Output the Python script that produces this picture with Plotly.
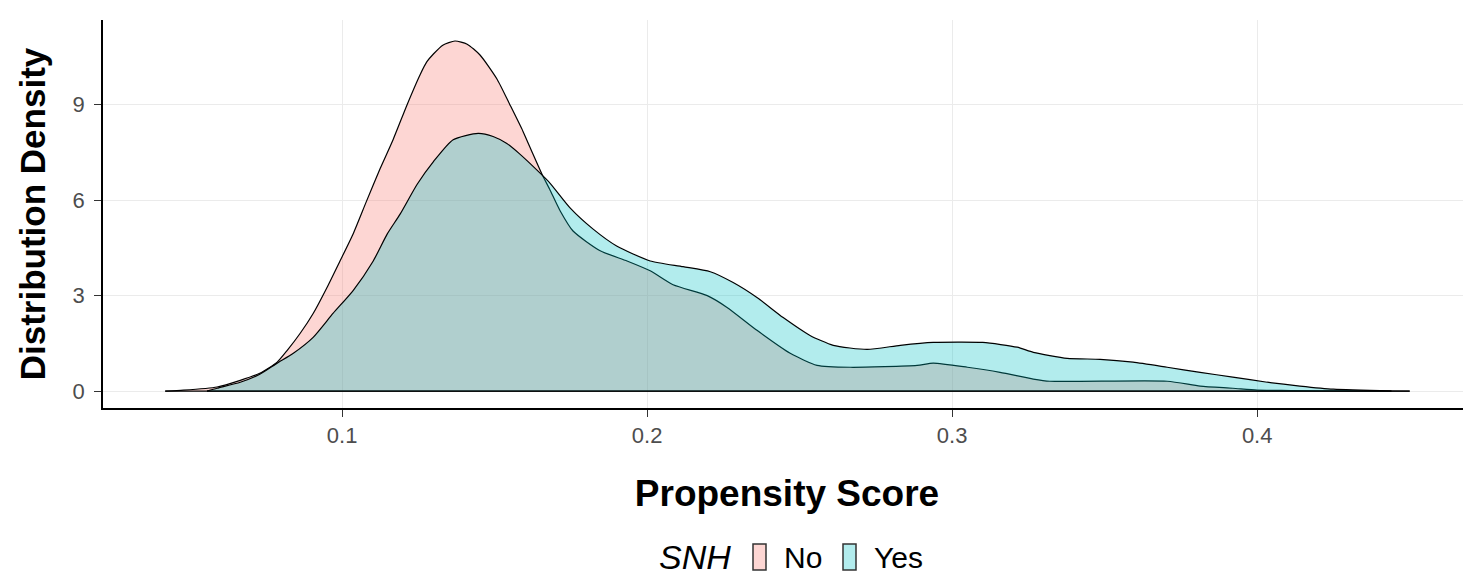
import plotly.graph_objects as go

# ---- data ----
no_x = [0.042, 0.048, 0.059, 0.0666, 0.073, 0.0787, 0.082, 0.0862, 0.0905, 0.095,
        0.0993, 0.1036, 0.108, 0.1125, 0.1167, 0.1213, 0.1256, 0.1278, 0.130, 0.133,
        0.137, 0.141, 0.1452, 0.1508, 0.155, 0.1593, 0.1626, 0.1656, 0.168, 0.1715,
        0.1757, 0.1846, 0.1934, 0.201, 0.2085, 0.2197, 0.2262, 0.236, 0.2469, 0.2557,
        0.2666, 0.2885, 0.2938, 0.305, 0.3157, 0.3266, 0.332, 0.3705, 0.3813, 0.392,
        0.400, 0.411, 0.430, 0.450]
no_y = [0.0, 0.03, 0.13, 0.34, 0.56, 0.91, 1.28, 1.81, 2.44, 3.25,
        4.09, 4.94, 5.97, 7.0, 7.9, 9.0, 9.95, 10.35, 10.6, 10.87,
        11.0, 10.9, 10.56, 9.8, 9.0, 8.16, 7.44, 6.8, 6.35, 5.66,
        5.03, 4.41, 4.09, 3.78, 3.34, 3.0, 2.63, 1.91, 1.19, 0.81,
        0.75, 0.81, 0.88, 0.75, 0.59, 0.38, 0.31, 0.31, 0.16, 0.09,
        0.03, 0.02, 0.005, 0.0]

yes_x = [0.0557, 0.059, 0.0666, 0.073, 0.0787, 0.084, 0.0905, 0.097, 0.1036, 0.1102,
         0.1148, 0.119, 0.1246, 0.130, 0.1364, 0.1446, 0.1495, 0.154, 0.158, 0.165,
         0.1682, 0.1748, 0.1823, 0.190, 0.201, 0.2118, 0.2207, 0.2282, 0.236, 0.2446,
         0.2534, 0.261, 0.2721, 0.283, 0.2938, 0.310, 0.3213, 0.3266, 0.3377, 0.3485,
         0.3593, 0.3705, 0.3813, 0.392, 0.4033, 0.414, 0.425, 0.444]
yes_y = [0.0, 0.09, 0.28, 0.53, 0.88, 1.19, 1.69, 2.44, 3.16, 4.09,
         4.94, 5.56, 6.5, 7.22, 7.9, 8.1, 8.0, 7.78, 7.47, 6.84,
         6.53, 5.75, 5.09, 4.56, 4.09, 3.91, 3.75, 3.41, 2.94, 2.31,
         1.75, 1.44, 1.31, 1.44, 1.53, 1.53, 1.38, 1.22, 1.03, 1.0,
         0.91, 0.75, 0.59, 0.44, 0.28, 0.16, 0.06, 0.0]

groups = ["No", "Yes"]
fills = ["rgba(248,118,109,0.3)", "rgba(0,191,196,0.3)"]
x_ticks = [0.1, 0.2, 0.3, 0.4]
y_ticks = [0, 3, 6, 9]

FONT = "Liberation Sans, Arial, sans-serif"

# page has an 8px body margin; plot area in page pixels: left 103, top 20, width 1368, height 388
PL, PT, PW, PH = 103, 20, 1368, 388

fig = go.Figure()
for name, xs, ys, fc in [(groups[0], no_x, no_y, fills[0]), (groups[1], yes_x, yes_y, fills[1])]:
    fig.add_trace(go.Scatter(
        x=xs, y=ys, mode="lines", name=name, fill="tozeroy", fillcolor=fc,
        line=dict(color="black", width=1.2, shape="spline", smoothing=0.6),
        showlegend=False, hoverinfo="skip"))
    fig.add_trace(go.Scatter(
        x=[xs[0], xs[-1]], y=[0, 0], mode="lines",
        line=dict(color="black", width=1.2), showlegend=False, hoverinfo="skip"))

axis_common = dict(
    showline=True, linecolor="black", linewidth=1.5, mirror=False,
    ticks="outside", ticklen=7, tickcolor="#333333", tickwidth=1.2,
    showgrid=True, gridcolor="#EBEBEB", gridwidth=1, zeroline=False,
    tickfont=dict(family=FONT, size=22, color="#4D4D4D"),
)

fig.update_layout(
    width=1463, height=577,
    margin=dict(l=PL - 8, r=0, t=PT - 8, b=577 - (PT - 8) - PH),
    paper_bgcolor="white", plot_bgcolor="white",
    xaxis=dict(range=[0.0216, 0.4701], tickvals=x_ticks, ticktext=[str(v) for v in x_ticks],
               title=dict(text="<b>Propensity Score</b>", font=dict(family=FONT, size=37, color="black"),
                          standoff=33), **axis_common),
    yaxis=dict(range=[-0.53, 11.66], tickvals=y_ticks, ticktext=[str(v) for v in y_ticks],
               ticklabelstandoff=5,
               title=dict(text="<b>Distribution Density</b>", font=dict(family=FONT, size=35, color="black"),
                          standoff=16), **axis_common),
    showlegend=False,
)

def px(xp):
    return (xp - PL) / PW

def py(yp):
    return 1 - (yp - PT) / PH

# legend drawn manually (ggplot bottom legend)
fig.add_annotation(xref="paper", yref="paper", x=px(695), y=py(557),
                   text="<i>SNH</i>", showarrow=False, xanchor="center", yanchor="middle",
                   font=dict(family=FONT, size=34, color="black"))
key_x = [753, 843]
for i, name in enumerate(groups):
    x0 = key_x[i]
    fig.add_shape(type="rect", xref="paper", yref="paper",
                  x0=px(x0), x1=px(x0 + 13), y0=py(570), y1=py(544),
                  fillcolor=fills[i], line=dict(color="#333333", width=1.5))
    fig.add_annotation(xref="paper", yref="paper", x=px(x0 + 29), y=py(557),
                       text=name, showarrow=False, xanchor="left", yanchor="middle",
                       font=dict(family=FONT, size=30, color="black"))

fig.write_html("out.html")
